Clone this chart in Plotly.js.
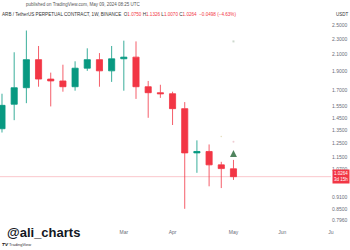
<!DOCTYPE html>
<html>
<head>
<meta charset="utf-8">
<script src="https://cdn.plot.ly/plotly-3.0.1.min.js"></script>
<style>html,body{margin:0;padding:0;background:#fff;}#chart{width:350px;height:250px;}</style>
</head>
<body>
<div id="chart"></div>
<script>
// Weekly ARB/USDT candles
const weeks = ['2023-12-25','2024-01-01','2024-01-08','2024-01-15','2024-01-22','2024-01-29','2024-02-05','2024-02-12','2024-02-19','2024-02-26','2024-03-04','2024-03-11','2024-03-18','2024-03-25','2024-04-01','2024-04-08','2024-04-15','2024-04-22','2024-04-29','2024-05-06'];
const opens  = [1.36,1.57,1.73,2.04,1.82,1.80,1.74,1.94,2.04,1.91,2.05,2.07,1.74,1.68,1.67,1.53,1.18,1.19,1.10,1.0750];
const highs  = [1.67,2.13,2.42,2.21,1.89,1.98,2.02,2.18,2.12,2.21,2.28,2.27,1.80,1.76,1.69,1.59,1.27,1.24,1.12,1.1326];
const lows   = [1.33,1.43,1.58,1.74,1.55,1.69,1.70,1.91,1.74,1.79,1.70,1.62,1.45,1.63,1.39,0.85,1.05,0.97,0.96,1.0070];
const closes = [1.56,1.73,2.04,1.82,1.80,1.74,1.94,2.04,1.91,2.05,2.07,1.74,1.68,1.67,1.53,1.18,1.19,1.10,1.0762,1.0264];

const priceTicks = [2.5,2.3,2.1,1.9,1.7,1.55,1.45,1.35,1.25,1.15,1.07,0.91,0.85,0.796];
const priceTickText = ['2.5000','2.3000','2.1000','1.9000','1.7000','1.5500','1.4500','1.3500','1.2500','1.1500','1.0700','0.9100','0.8500','0.7960'];
const monthTicks = ['2024-03-04','2024-04-01','2024-05-06','2024-06-03','2024-07-01'];
const monthText = ['Mar','Apr','May','Jun','Ju'];

// signal marks drawn on the chart
const signalX = ['2024-05-06','2024-04-29','2024-05-06','2024-05-06'];
const signalY = [1.20,1.30,1.26,2.27];
const signalSymbols = ['arrow-up','circle','circle','square'];
const signalColors = ['#06501a','#d8d0a0','#e8b8c0','#b8c8b8'];
const signalSizes = [7,1.5,2,2];

const xRange = ['2023-12-23 20:30','2024-07-01 01:00'];
const lastClose = closes[closes.length-1];

const traces = [
  {
    type:'scatter', mode:'lines', x:xRange, y:[lastClose,lastClose],
    line:{color:'rgba(242,54,69,0.35)', width:0.8}, hoverinfo:'skip', showlegend:false
  },
  {
    type:'candlestick', x:weeks, open:opens, high:highs, low:lows, close:closes,
    increasing:{line:{color:'#089981', width:0.8}, fillcolor:'#089981'},
    decreasing:{line:{color:'#f23645', width:0.8}, fillcolor:'#f23645'},
    whiskerwidth:0, hoverinfo:'skip', showlegend:false
  },
  {
    type:'scatter', mode:'markers', x:signalX, y:signalY,
    marker:{symbol:signalSymbols, color:signalColors, size:signalSizes, line:{width:0}},
    hoverinfo:'skip', showlegend:false
  }
];

const grey = '#6a6d78';
const W = 331, H = 228;
const layout = {
  width:350, height:250,
  margin:{l:0, r:19, t:0, b:22},
  paper_bgcolor:'#ffffff', plot_bgcolor:'#ffffff',
  showlegend:false, hovermode:false, boxgap:0.28,
  font:{family:'Liberation Sans, Arial, sans-serif', color:grey, size:5},
  xaxis:{
    type:'date', range:xRange, rangeslider:{visible:false},
    tickvals:monthTicks, ticktext:monthText, showgrid:false, zeroline:false,
    showline:false, ticks:'', tickfont:{size:5, color:grey}, fixedrange:true
  },
  yaxis:{
    type:'log', side:'right', range:[-0.1195,0.4616],
    tickvals:priceTicks, ticktext:priceTickText, showgrid:false, zeroline:false,
    showline:false, ticks:'', tickfont:{size:5, color:grey}, fixedrange:true
  },
  annotations:[
    {xref:'paper', yref:'paper', x:83/W, y:1-5/H, xanchor:'center', yanchor:'middle', showarrow:false,
     text:'published on TradingView.com, May 09, 2024 08:25 UTC', font:{size:4.5, color:'#555'}},
    {xref:'paper', yref:'paper', x:0, y:1-15/H, xanchor:'left', yanchor:'middle', showarrow:false,
     text:'ARB / TetherUS PERPETUAL CONTRACT, 1W, BINANCE  O<span style="color:#f23645">1.0750</span> H<span style="color:#f23645">1.1326</span> L<span style="color:#f23645">1.0070</span> C<span style="color:#f23645">1.0264  −0.0498 (−4.63%)</span>',
     font:{size:4.6, color:'#333'}},
    {xref:'paper', yref:'paper', x:334/W, y:1-15/H, xanchor:'left', yanchor:'middle', showarrow:false,
     text:'USDT', font:{size:4.5, color:'#333'}},
    {xref:'paper', yref:'y', x:332/W, y:Math.log10(lastClose), xanchor:'left', yanchor:'middle', showarrow:false,
     text:'1.0264<br>3d 15h', bgcolor:'#f23645', borderpad:1, align:'left',
     font:{size:4.5, color:'#ffffff'}},
    {xref:'paper', yref:'paper', x:5/W, y:1-232/H, xanchor:'left', yanchor:'middle', showarrow:false,
     text:'<b>@ali_charts</b>', font:{family:'Liberation Sans, Arial, sans-serif', size:13, color:'#131722'}},
    {xref:'paper', yref:'paper', x:0, y:1-245/H, xanchor:'left', yanchor:'middle', showarrow:false,
     text:'<b>𝙏𝙑</b> TradingView', font:{size:4, color:'#333'}}
  ]
};

Plotly.newPlot('chart', traces, layout, {displayModeBar:false, staticPlot:true});
</script>
</body>
</html>
